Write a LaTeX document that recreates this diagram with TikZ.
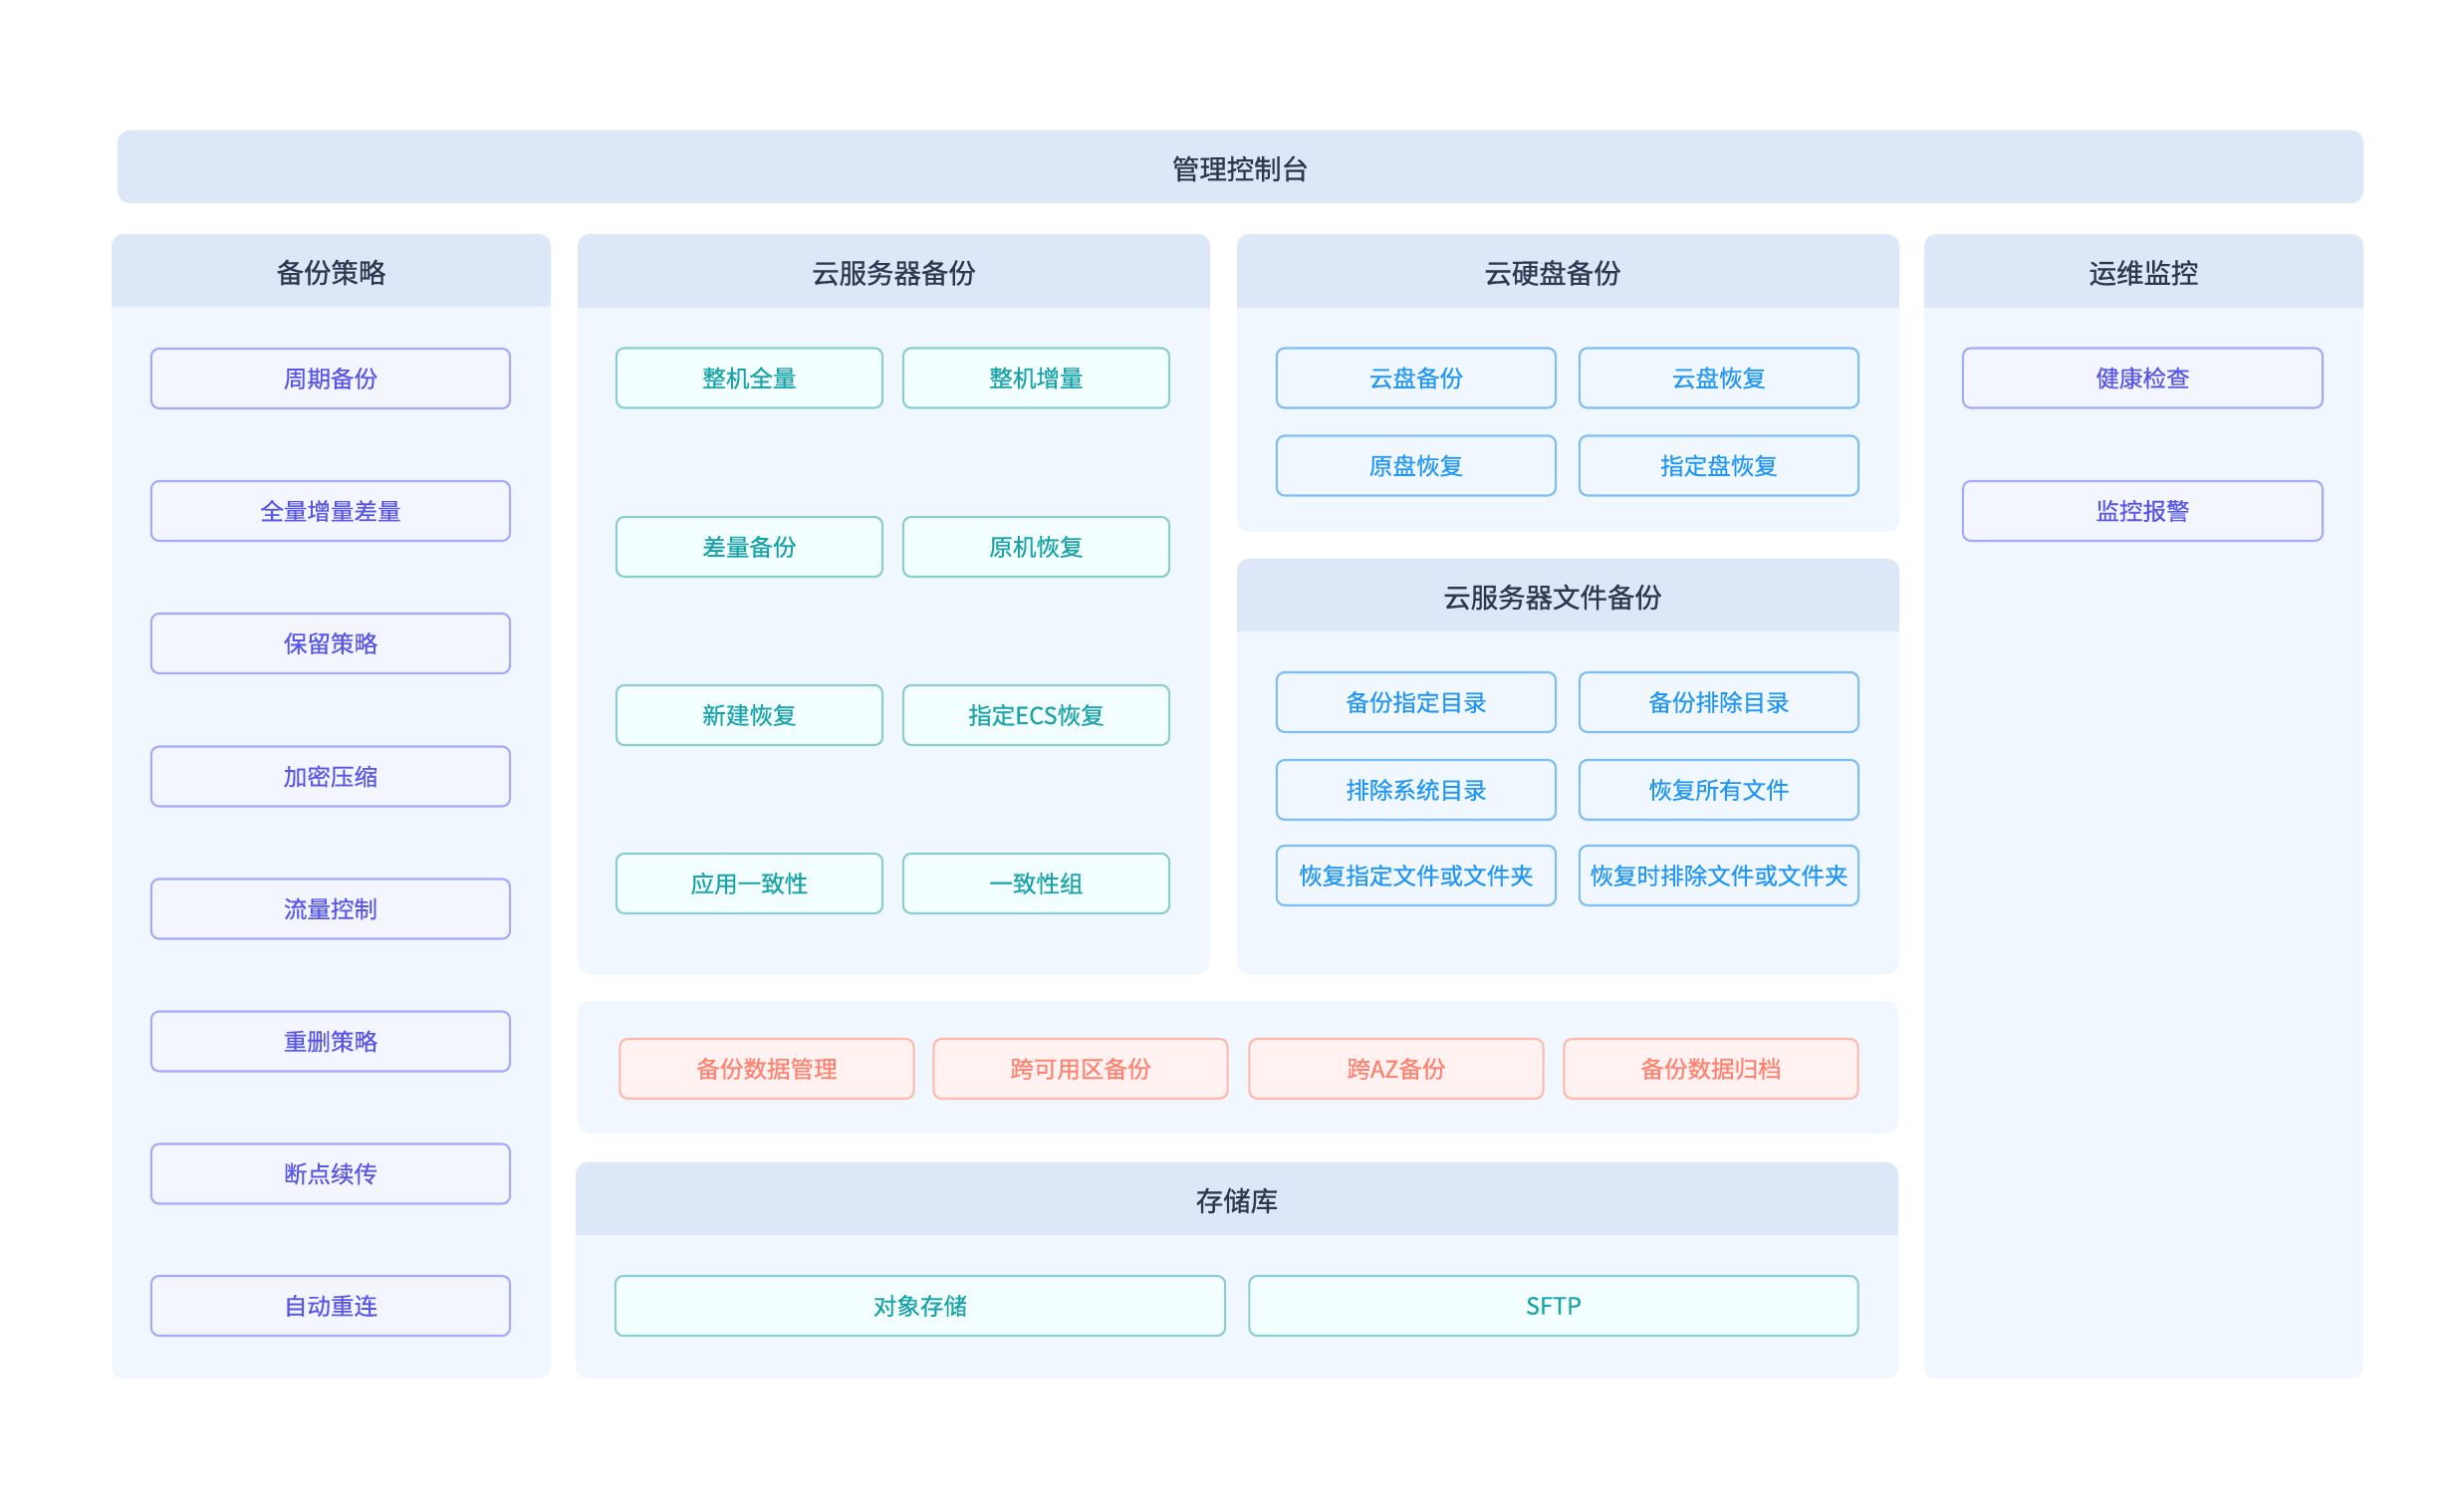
\documentclass[tikz,border=0pt]{standalone}
\usepackage{fontspec}
\newfontfamily\cjk[FakeBold=0.4]{Noto Sans CJK SC}
\newfontfamily\cjkhead[FakeBold=0.9]{Noto Sans CJK SC}
\usetikzlibrary{calc}
\definecolor{headfill}{RGB}{220,232,248}
\definecolor{bodyfill}{RGB}{240,247,255}
\definecolor{headtext}{RGB}{45,55,80}
\definecolor{pborder}{RGB}{165,170,250}
\definecolor{pfill}{RGB}{243,245,255}
\definecolor{ptext}{RGB}{88,86,230}
\definecolor{tborder}{RGB}{140,205,208}
\definecolor{tfill}{RGB}{242,254,255}
\definecolor{ttext}{RGB}{23,163,168}
\definecolor{bborder}{RGB}{125,190,245}
\definecolor{bfill}{RGB}{240,247,255}
\definecolor{btext}{RGB}{33,150,243}
\definecolor{oborder}{RGB}{255,185,172}
\definecolor{ofill}{RGB}{255,242,240}
\definecolor{otext}{RGB}{255,128,110}
\tikzset{
  head/.style={font=\cjkhead\fontsize{7.8}{9}\selectfont, text=headtext},
  item/.style={rounded corners=0.08cm, line width=0.6pt, minimum height=0.6cm, inner sep=0pt, font=\cjk\fontsize{6.7}{8}\selectfont},
  pbox/.style={item, draw=pborder, fill=pfill, text=ptext, minimum width=3.6cm},
  tbox/.style={item, draw=tborder, fill=tfill, text=ttext, minimum width=2.67cm},
  bbox/.style={item, draw=bborder, fill=bfill, text=btext, minimum width=2.8cm},
  obox/.style={item, draw=oborder, fill=ofill, text=otext, minimum width=2.95cm},
}
\def\panel(#1,#2)(#3,#4)(#5){\fill[bodyfill,rounded corners=0.12cm] (#1,#2) rectangle (#3,#4);
  \fill[headfill,rounded corners=0.12cm] (#1,#2) rectangle (#3,#5);
  \fill[headfill] (#1,#5-20) rectangle (#3,#5);}

\begin{document}
\begin{tikzpicture}[x=0.01cm,y=-0.01cm]
				\useasboundingbox (0,-1) rectangle (2474,1515);
				\fill[white] (0,-1) rectangle (2474,1515);
				
				\fill[headfill,rounded corners=0.12cm] (118,130) rectangle (2373,203);
				\node[head] (console) at (1245.5,168.5) {管理控制台};
				
				% left column
				\panel(112,234)(553,1383)(307)
				\node[head] (policy) at (332.5,272.5) {备份策略};
				\node[pbox] (periodic) at (332,379) {周期备份};
				\node[pbox] (fullinc) at (332,512) {全量增量差量};
				\node[pbox] (retain) at (332,645) {保留策略};
				\node[pbox] (encrypt) at (332,778.5) {加密压缩};
				\node[pbox] (flow) at (332,911.5) {流量控制};
				\node[pbox] (dedup) at (332,1044.5) {重删策略};
				\node[pbox] (resume) at (332,1177.5) {断点续传};
				\node[pbox] (reconnect) at (332,1310) {自动重连};
				
				% server backup
				\panel(580,234)(1215,977)(308)
				\node[head] (ecs) at (897.5,273) {云服务器备份};
				\node[tbox] (wholefull) at (752.5,378.5) {整机全量};
				\node[tbox] (wholeinc) at (1040.5,378.5) {整机增量};
				\node[tbox] (diff) at (752.5,548) {差量备份};
				\node[tbox] (origin) at (1040.5,548) {原机恢复};
				\node[tbox] (newvm) at (752.5,717) {新建恢复};
				\node[tbox] (target) at (1040.5,717) {指定ECS恢复};
				\node[tbox] (appcons) at (752.5,886) {应用一致性};
				\node[tbox] (consgroup) at (1040.5,886) {一致性组};
				
				% disk backup
				\panel(1242,234)(1907,533)(308)
				\node[head] (disk) at (1559,273) {云硬盘备份};
				\node[bbox] (diskbak) at (1422,378.5) {云盘备份};
				\node[bbox] (diskres) at (1726,378.5) {云盘恢复};
				\node[bbox] (origdisk) at (1422,466.5) {原盘恢复};
				\node[bbox] (targdisk) at (1726,466.5) {指定盘恢复};
				
				% file backup
				\panel(1242,560)(1907,977)(633)
				\node[head] (files) at (1559,598.5) {云服务器文件备份};
				\node[bbox] (incdir) at (1422,704) {备份指定目录};
				\node[bbox] (excdir) at (1726,704) {备份排除目录};
				\node[bbox] (sysdir) at (1422,792) {排除系统目录};
				\node[bbox] (allfiles) at (1726,792) {恢复所有文件};
				\node[bbox] (somefiles) at (1422,878) {恢复指定文件或文件夹};
				\node[bbox] (skipfiles) at (1726,878) {恢复时排除文件或文件夹};
				
				% data management
				\fill[bodyfill,rounded corners=0.12cm] (580,1004) rectangle (1906,1137);
				\node[obox] (datamgmt) at (770,1072) {备份数据管理};
				\node[obox] (crossaz) at (1085,1072) {跨可用区备份};
				\node[obox] (azbak) at (1402,1072) {跨AZ备份};
				\node[obox] (archive) at (1718,1072) {备份数据归档};
				
				% vault
				\panel(578,1166)(1906,1383)(1239)
				\node[head] (vault) at (1242,1204.5) {存储库};
				\node[tbox,minimum width=6.12cm] (objstore) at (924,1310) {对象存储};
				\node[tbox,minimum width=6.11cm] (sftp) at (1560,1310) {SFTP};
				
				% monitoring
				\panel(1932,234)(2373,1383)(308)
				\node[head] (ops) at (2152.5,273) {运维监控};
				\node[pbox,minimum width=3.61cm] (health) at (2151.5,378.5) {健康检查};
				\node[pbox,minimum width=3.61cm] (alarm) at (2151.5,512) {监控报警};
			\end{tikzpicture}
\end{document}
